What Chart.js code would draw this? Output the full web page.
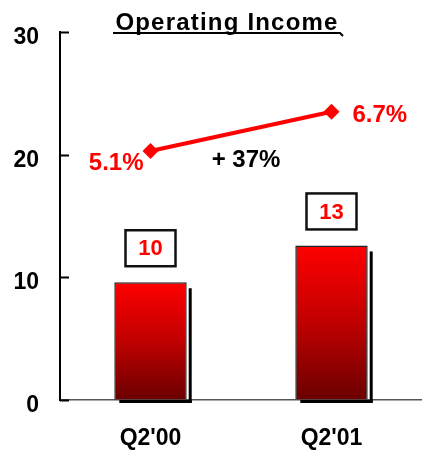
<!DOCTYPE html>
<html>
<head>
<meta charset="utf-8">
<script src="https://cdn.jsdelivr.net/npm/chart.js@4/dist/chart.umd.min.js"></script>
<style>
  html, body { margin: 0; padding: 0; background: #fff; }
  #c { display: block; }
</style>
</head>
<body>
<canvas id="c" width="422" height="450"></canvas>
<script>
// ---- data ----
const categories = ["Q2'00", "Q2'01"];
const incomeValues = [9.6, 12.6];          // bar heights
const incomeLabels = ['10', '13'];         // boxed value labels
const marginPositions = [20.3, 23.5];      // line points, on the left axis
const marginLabels = ['5.1%', '6.7%'];
const growthLabel = '+ 37%';
const titleText = 'Operating Income';
const yTicks = [0, 10, 20, 30];

const FONT = '"Liberation Sans", Arial, Helvetica, sans-serif';
const RED = '#ff0000';

function barGradient(context) {
  const chart = context.chart;
  const y = chart.scales && chart.scales.y;
  if (!y || context.raw === undefined) return RED;
  const top = y.getPixelForValue(context.raw);
  const bottom = y.getPixelForValue(0);
  if (!isFinite(top) || !isFinite(bottom) || top === bottom) return RED;
  const g = chart.ctx.createLinearGradient(0, top, 0, bottom);
  g.addColorStop(0, '#ff0000');
  g.addColorStop(0.5, '#c00000');
  g.addColorStop(1, '#6a0000');
  return g;
}

const decorPlugin = {
  id: 'decor',
  beforeDatasetsDraw(chart) {
    const ctx = chart.ctx;
    const meta = chart.getDatasetMeta(0);
    const base = chart.scales.y.getPixelForValue(0);
    ctx.save();
    ctx.fillStyle = '#000';
    meta.data.forEach(bar => {
      const L = bar.x - bar.width / 2, R = bar.x + bar.width / 2;
      ctx.fillRect(R + 2, bar.y + 6, 3, base - bar.y - 3);
      ctx.fillRect(L + 5, base, bar.width, 3);
    });
    ctx.restore();
  },
  afterDatasetsDraw(chart) {
    const ctx = chart.ctx;
    const y = chart.scales.y;
    const left = chart.chartArea.left;
    ctx.save();
    // inward ticks and tick labels on the y axis
    ctx.strokeStyle = '#000';
    ctx.lineWidth = 2;
    ctx.fillStyle = '#000';
    ctx.font = 'bold 23px ' + FONT;
    ctx.textAlign = 'right';
    ctx.textBaseline = 'middle';
    yTicks.forEach(v => {
      const py = Math.round(y.getPixelForValue(v)) + 0.5;
      ctx.beginPath();
      ctx.moveTo(left, py);
      ctx.lineTo(left + 9, py);
      ctx.stroke();
      ctx.fillText(String(v), left - 21, py + 5);
    });

    // boxed value labels above bars
    const bars = chart.getDatasetMeta(0).data;
    bars.forEach((bar, i) => {
      const w = 50, h = 36;
      const bx = bar.x - w / 2;
      const by = bar.y - 16 - h;
      ctx.fillStyle = '#fff';
      ctx.fillRect(bx, by, w, h);
      ctx.lineWidth = 2.5;
      ctx.strokeStyle = '#111';
      ctx.strokeRect(bx, by, w, h);
      ctx.fillStyle = RED;
      ctx.font = 'bold 22px ' + FONT;
      ctx.textAlign = 'center';
      ctx.textBaseline = 'middle';
      ctx.fillText(incomeLabels[i], bar.x, by + h / 2 + 1);
    });

    // margin labels
    const pts = chart.getDatasetMeta(1).data;
    ctx.font = 'bold 24px ' + FONT;
    ctx.textBaseline = 'alphabetic';
    ctx.fillStyle = RED;
    ctx.textAlign = 'right';
    ctx.fillText(marginLabels[0], pts[0].x - 7, pts[0].y + 19);
    ctx.textAlign = 'left';
    ctx.fillText(marginLabels[1], pts[1].x + 21, pts[1].y + 10);

    // growth label
    ctx.fillStyle = '#000';
    ctx.textAlign = 'center';
    const mx = (pts[0].x + pts[1].x) / 2;
    const my = (pts[0].y + pts[1].y) / 2;
    ctx.fillText(growthLabel, mx + 5, my + 36);

    // title
    ctx.font = 'bold 24px ' + FONT;
    ctx.letterSpacing = '1.2px';
    ctx.textAlign = 'center';
    ctx.fillStyle = '#000';
    ctx.fillText(titleText, 227, 30);
    ctx.letterSpacing = '0px';
    ctx.strokeStyle = '#000';
    ctx.lineWidth = 2;
    ctx.beginPath();
    ctx.moveTo(113, 33);
    ctx.lineTo(340, 33);
    ctx.lineTo(343, 36);
    ctx.stroke();
    ctx.restore();
  }
};

new Chart(document.getElementById('c'), {
  data: {
    labels: categories,
    datasets: [
      {
        type: 'bar',
        data: incomeValues,
        backgroundColor: barGradient,
        borderColor: '#222',
        borderWidth: 1.5,
        barPercentage: 0.4,
        categoryPercentage: 1.0,
        order: 1
      },
      {
        type: 'line',
        data: marginPositions,
        borderColor: RED,
        backgroundColor: RED,
        borderWidth: 4,
        pointStyle: 'rectRot',
        pointRadius: 8,
        pointBorderWidth: 0,
        tension: 0,
        order: 0
      }
    ]
  },
  options: {
    responsive: false,
    devicePixelRatio: 1,
    animation: false,
    layout: { autoPadding: false, padding: { top: 32, left: 0, right: 0, bottom: 0 } },
    plugins: { legend: { display: false }, tooltip: { enabled: false } },
    scales: {
      x: {
        type: 'category',
        offset: true,
        grid: { display: true, drawOnChartArea: false, drawTicks: false },
        border: { display: true, color: '#555', width: 1.5 },
        ticks: { color: '#000', font: { family: FONT, size: 23, weight: 'bold' }, padding: 25 },
        afterFit(scale) { scale.height = 50; }
      },
      y: {
        min: 0,
        max: 30,
        grid: { display: true, drawOnChartArea: false, drawTicks: false },
        border: { display: true, color: '#000', width: 2 },
        ticks: { display: false, stepSize: 10 },
        afterFit(scale) { scale.width = 60; }
      }
    }
  },
  plugins: [decorPlugin]
});
</script>
</body>
</html>
